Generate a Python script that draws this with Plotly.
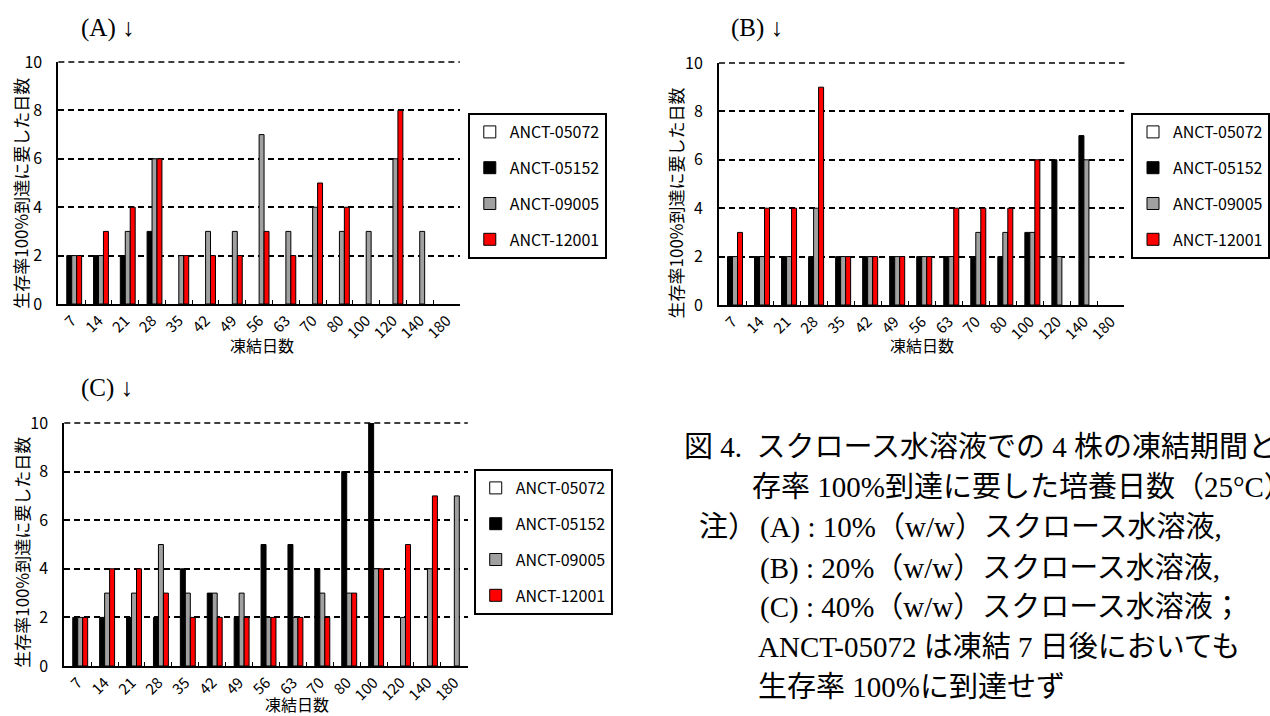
import plotly.graph_objects as go

W, H = 1270, 716
N = None

days = ["7", "14", "21", "28", "35", "42", "49", "56", "63", "70", "80", "100", "120", "140", "180"]
strains = ["ANCT-05072", "ANCT-05152", "ANCT-09005", "ANCT-12001"]

# Panel A: 10% (w/w)
a_05072 = [N, N, N, N, N, N, N, N, N, N, N, N, N, N, N]
a_05152 = [2, 2, 2, 3, N, N, N, N, N, N, N, N, N, N, N]
a_09005 = [2, 2, 3, 6, 2, 3, 3, 7, 3, 4, 3, 3, 6, 3, N]
a_12001 = [2, 3, 4, 6, 2, 2, 2, 3, 2, 5, 4, N, 8, N, N]

# Panel B: 20% (w/w)
b_05072 = [N, N, N, N, N, N, N, N, N, N, N, N, N, N, N]
b_05152 = [2, 2, 2, 2, 2, 2, 2, 2, 2, 2, 2, 3, 6, 7, N]
b_09005 = [2, 2, 2, 4, 2, 2, 2, 2, 2, 3, 3, 3, 2, 6, N]
b_12001 = [3, 4, 4, 9, 2, 2, 2, 2, 4, 4, 4, 6, N, N, N]

# Panel C: 40% (w/w)
c_05072 = [N, N, N, N, N, N, N, N, N, N, N, N, N, N, N]
c_05152 = [2, 2, 2, 2, 4, 3, 2, 5, 5, 4, 8, 10, N, N, N]
c_09005 = [2, 3, 3, 5, 3, 3, 3, 2, 2, 3, 3, 4, 2, 4, 7]
c_12001 = [2, 4, 4, 3, 2, 2, 2, 2, 2, 2, 3, 4, 5, 7, N]

y_ticks = [0, 2, 4, 6, 8, 10]
y_max = 10
y_title = "生存率100%到達に要した日数"
x_title = "凍結日数"
panel_titles = ["(A) ↓", "(B) ↓", "(C) ↓"]
caption_lines = [
    "図 4.  スクロース水溶液での 4 株の凍結期間と生",
    "存率 100%到達に要した培養日数（25°C）",
    "注）",
    "(A) : 10%（w/w）スクロース水溶液,",
    "(B) : 20%（w/w）スクロース水溶液,",
    "(C) : 40%（w/w）スクロース水溶液；",
    "ANCT-05072 は凍結 7 日後においても",
    "生存率 100%に到達せず",
]

colors = ["#FFFFFF", "#000000", "#A0A0A0", "#FF0000"]

SANS = "Noto Sans CJK JP, Liberation Sans, Arial, sans-serif"
SERIF = "Liberation Serif, Times New Roman, Noto Sans CJK JP, serif"
GRID_DASH = "6px,4px"


def px_x(v):
    return v / W


def px_y(v):
    return 1 - v / H


panels = [
    dict(data=[a_05072, a_05152, a_09005, a_12001], xd=(59, 465), yd=(62, 304), leg=(473, 113),
         ttl=(80, 28), ytl=(21, 193), xtl=(265, 345)),
    dict(data=[b_05072, b_05152, b_09005, b_12001], xd=(727, 1137), yd=(63, 305), leg=(1144, 113),
         ttl=(737, 28), ytl=(683, 203), xtl=(932, 345)),
    dict(data=[c_05072, c_05152, c_09005, c_12001], xd=(65, 473), yd=(423, 666), leg=(479, 469),
         ttl=(80, 388), ytl=(21, 552), xtl=(300, 704)),
]

fig = go.Figure()
annotations = []
shapes = []
layout = dict(
    width=W, height=H,
    margin=dict(l=0, r=0, t=0, b=0),
    paper_bgcolor="white", plot_bgcolor="white",
    barmode="group", bargap=0.26, bargroupgap=0.0,
    font=dict(family=SANS, size=15, color="black"),
)

for i, p in enumerate(panels):
    sfx = "" if i == 0 else str(i + 1)
    leg_name = "legend" if i == 0 else f"legend{i + 1}"
    for j, (name, vals) in enumerate(zip(strains, p["data"])):
        fig.add_trace(go.Bar(
            x=days, y=vals, name=name,
            marker=dict(color=colors[j], line=dict(color="black", width=1)),
            xaxis="x" + sfx, yaxis="y" + sfx,
            legend=leg_name, legendgroup=f"{i}_{j}",
        ))
    layout["xaxis" + sfx] = dict(
        domain=[px_x(p["xd"][0]), px_x(p["xd"][1])],
        anchor="y" + sfx, type="category", categoryorder="array", categoryarray=days,
        showline=True, linecolor="black", linewidth=2,
        ticks="inside", tickson="boundaries", ticklen=4, tickwidth=1, tickcolor="black",
        tickangle=-45, tickfont=dict(size=15, family=SANS), showgrid=False,
        automargin=False,
    )
    layout["yaxis" + sfx] = dict(
        domain=[px_y(p["yd"][1]), px_y(p["yd"][0])],
        anchor="x" + sfx, range=[0, y_max], tickvals=y_ticks,
        showline=True, linecolor="black", linewidth=2, ticks="",
        showgrid=True, gridcolor="black", gridwidth=1.5, griddash=GRID_DASH,
        zeroline=False, tickfont=dict(size=16, family=SANS),
        ticklabelstandoff=11, automargin=False,
    )
    # top gridline at y_max (Plotly drops gridlines lying on the range edge);
    # placed at the top of the y domain so it is not clipped by the plot area
    shapes.append(dict(
        type="line", xref=f"x{sfx} domain", x0=0, x1=1,
        yref=f"y{sfx} domain", y0=1, y1=1,
        line=dict(color="black", width=1.5, dash=GRID_DASH), layer="above",
    ))
    layout[leg_name] = dict(
        x=px_x(p["leg"][0]), y=px_y(p["leg"][1]), xanchor="left", yanchor="top",
        xref="paper", yref="paper",
        bgcolor="white", bordercolor="black", borderwidth=2,
        font=dict(size=16, family=SANS), traceorder="grouped", tracegroupgap=12,
        itemwidth=30,
    )
    annotations.append(dict(
        text=panel_titles[i], x=px_x(p["ttl"][0]), y=px_y(p["ttl"][1]),
        xref="paper", yref="paper", xanchor="left", yanchor="middle", showarrow=False,
        font=dict(family=SERIF, size=25, color="black"),
    ))
    annotations.append(dict(
        text=y_title, x=px_x(p["ytl"][0]), y=px_y(p["ytl"][1]), textangle=-90,
        xref="paper", yref="paper", xanchor="center", yanchor="middle", showarrow=False,
        font=dict(family=SANS, size=17, color="black"),
    ))
    annotations.append(dict(
        text=x_title, x=px_x(p["xtl"][0]), y=px_y(p["xtl"][1]),
        xref="paper", yref="paper", xanchor="center", yanchor="middle", showarrow=False,
        font=dict(family=SANS, size=16, color="black"),
    ))

cap_pos = [(690, 447), (758, 487), (705, 527), (766, 527), (766, 568), (766, 607), (764, 647), (764, 687)]
for txt, (cx, cy) in zip(caption_lines, cap_pos):
    annotations.append(dict(
        text=txt, x=px_x(cx), y=px_y(cy), xref="paper", yref="paper",
        xanchor="left", yanchor="middle", showarrow=False,
        font=dict(family=SERIF, size=29, color="black"),
    ))

layout["annotations"] = annotations
layout["shapes"] = shapes
fig.update_layout(**layout)
fig.write_html("out.html")
